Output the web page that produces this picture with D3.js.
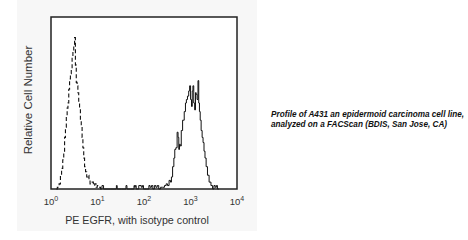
<!DOCTYPE html>
<html>
<head>
<meta charset="utf-8">
<script src="https://cdn.jsdelivr.net/npm/d3@7"></script>
<style>
  body { margin: 0; background: #fff; }
  text { font-family: "Liberation Sans", Arial, sans-serif; }
</style>
</head>
<body>
<div id="chart"></div>
<script>
// isotype control (dashed) : fluorescence channel, count
var isoX = [1.3, 1.44, 1.55, 1.64, 1.74, 1.84, 1.92, 2.0, 2.09, 2.18, 2.27, 2.36, 2.46, 2.56, 2.67, 2.79, 2.9, 3.02, 3.15, 3.28, 3.42, 3.57, 3.71, 3.86, 4.03, 4.2, 4.38, 4.57, 4.76, 4.95, 5.16, 5.38, 5.7, 6.03, 6.4, 6.73, 7.1, 7.5, 7.9, 8.41, 9.0, 9.6, 10.2, 11.3, 12];
var isoY = [0, 1, 3, 8, 12, 17, 22, 30, 36, 42, 47, 50, 58, 64, 67, 70, 76, 80, 84, 88, 72, 62, 60, 56, 51, 47, 40, 37, 30, 24, 18, 13, 10, 7, 8, 5, 3, 3, 4, 2, 3, 1, 2, 1, 0];

// PE EGFR (solid)
var egfrX = [12, 13, 14, 25, 26, 27, 40, 42, 44, 60, 62, 64, 66, 70, 85, 90, 95, 100, 125, 130, 140, 150, 160, 175, 185, 200, 215, 240, 263, 290, 309, 330, 363, 380, 398, 427, 450, 468, 501, 530, 550, 570, 589, 620, 646, 708, 759, 800, 832, 891, 940, 977, 1030, 1072, 1110, 1148, 1200, 1259, 1300, 1349, 1420, 1479, 1530, 1585, 1650, 1738, 1820, 1905, 2000, 2100, 2239, 2399, 2630, 2884, 3090, 3300, 3500, 3700, 3900, 4100];
var egfrY = [0, 2, 0, 0, 2, 0, 0, 2, 0, 0, 2, 1, 2, 0, 2, 1, 2, 0, 0, 2, 1, 2, 0, 2, 1, 2, 0, 1, 1, 2, 3, 2, 5, 4, 7, 13, 18, 23, 24, 33, 30, 23, 26, 25, 34, 40, 45, 50, 52, 54, 57, 60, 52, 48, 57, 60, 50, 46, 56, 55, 52, 63, 50, 45, 40, 34, 30, 27, 22, 18, 13, 8, 4, 2, 0, 2, 1, 2, 0, 0];

var xTicks = [1, 10, 100, 1000, 10000];
var xLabel = "PE EGFR, with isotype control";
var yLabel = "Relative Cell Number";
var note = ["Profile of A431 an epidermoid carcinoma cell line,",
            "analyzed on a FACScan (BDIS, San Jose, CA)"];

var W = 468, H = 240;
var margin = {top: 17, right: 231, bottom: 51, left: 51},
    width = W - margin.left - margin.right,
    height = H - margin.top - margin.bottom;

var svg = d3.select("#chart").append("svg")
    .attr("width", W)
    .attr("height", H);

// light panel behind the figure
svg.append("rect")
    .attr("x", 17).attr("y", 0)
    .attr("width", 240).attr("height", 231)
    .attr("fill", "#f7f7f7");

var g = svg.append("g")
    .attr("transform", "translate(" + margin.left + "," + margin.top + ")");

var x = d3.scaleLog().domain([1, 10000]).range([0, width]);
var y = d3.scaleLinear().domain([0, 100]).range([height, 0]);

g.append("rect")
    .attr("width", width).attr("height", height)
    .attr("fill", "#fff");

var line = d3.line()
    .x(function(d) { return x(d[0]); })
    .y(function(d) { return y(d[1]); })
    .curve(d3.curveStep);

g.append("path")
    .datum(d3.zip(isoX, isoY))
    .attr("d", line)
    .attr("fill", "none")
    .attr("stroke", "#111")
    .attr("stroke-width", 1.1)
    .attr("stroke-dasharray", "4,2.5");

g.append("path")
    .datum(d3.zip(egfrX, egfrY))
    .attr("d", line)
    .attr("fill", "none")
    .attr("stroke", "#111")
    .attr("stroke-width", 1);

// frame
g.append("rect")
    .attr("width", width).attr("height", height)
    .attr("fill", "none")
    .attr("stroke", "#222")
    .attr("stroke-width", 1.5);

// tick labels as 10 with superscript
var tl = g.append("g").selectAll("text")
    .data(xTicks)
    .enter().append("text")
      .attr("x", function(d) { return x(d); })
      .attr("y", height + 16)
      .attr("text-anchor", "middle")
      .attr("font-size", 9.5)
      .attr("fill", "#333");
tl.append("tspan").text("10");
tl.append("tspan")
    .attr("dy", -4)
    .attr("font-size", 7)
    .text(function(d) { return Math.round(Math.log10(d)); });

g.append("text")
    .attr("x", width / 2 - 7)
    .attr("y", height + 35)
    .attr("text-anchor", "middle")
    .attr("font-size", 10.7)
    .attr("fill", "#333")
    .text(xLabel);

g.append("text")
    .attr("transform", "rotate(-90)")
    .attr("x", -height / 2 + 3)
    .attr("y", -19)
    .attr("text-anchor", "middle")
    .attr("font-size", 11.5)
    .attr("fill", "#333")
    .text(yLabel);

svg.append("g").selectAll("text")
    .data(note)
    .enter().append("text")
      .attr("x", 271)
      .attr("y", function(d, i) { return 117 + i * 10; })
      .attr("font-size", 8.2)
      .attr("font-weight", "bold")
      .attr("font-style", "italic")
      .attr("fill", "#111")
      .text(function(d) { return d; });
</script>
</body>
</html>
